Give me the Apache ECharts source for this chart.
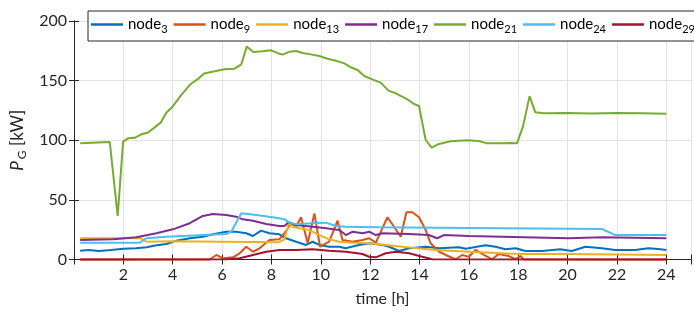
<!DOCTYPE html>
<html style="height: 100%">
<head>
    <meta charset="utf-8">
    <title>P_G per node</title>
</head>
<body style="height: 100%; margin: 0;">
<div id="container" style="width: 694px; height: 315px"></div>
<script src="https://cdn.jsdelivr.net/npm/echarts@6/dist/echarts.min.js"></script>
<script type="text/javascript">

    // time [h] / P_G [kW], one pair of arrays per node
    var t3 = [0.25, 0.6, 1.0, 1.5, 2.0, 2.5, 2.94, 3.34, 3.75, 4.15, 4.69, 5.22, 5.63, 6.17, 6.57, 6.98, 7.25, 7.58, 7.92, 8.32, 8.59, 9.0, 9.4, 9.67, 9.94, 10.34, 10.75, 11.0, 11.55, 11.96, 12.5, 12.77, 13.17, 13.58, 14.25, 14.79, 15.6, 15.87, 16.67, 17.08, 17.48, 17.89, 18.29, 18.96, 19.7, 20.17, 20.72, 21.39, 21.93, 22.73, 23.27, 23.68, 24];
    var v3 = [7.4, 8, 7.1, 8, 9, 9.4, 10.2, 11.9, 13, 15.8, 17.8, 19.1, 21.1, 23.3, 23.3, 22, 19.7, 24.2, 22, 21.1, 17.8, 14.9, 12.2, 14.9, 12.2, 10.7, 10.7, 9.4, 12.2, 13.6, 12.2, 10.7, 7.1, 9.4, 10.7, 9.4, 10.2, 9, 11.9, 10.7, 8.6, 9.4, 7.1, 7.1, 8.6, 7.1, 10.7, 9.4, 8, 8, 9.4, 8.8, 8];

    var t9 = [0.25, 5.5, 5.77, 6.03, 6.44, 6.71, 6.98, 7.25, 7.52, 7.92, 8.32, 8.53, 8.8, 9.0, 9.2, 9.47, 9.74, 9.97, 10.34, 10.68, 10.88, 11.29, 11.69, 11.96, 12.23, 12.7, 12.97, 13.24, 13.47, 13.71, 13.98, 14.25, 14.45, 14.79, 15.06, 15.46, 15.73, 16.0, 16.27, 16.61, 16.94, 17.21, 17.62, 17.89, 18.09, 18.22, 24];
    var v9 = [0, 0, 3.8, 1, 1.8, 5.2, 10.7, 6.5, 9.4, 16.4, 16.9, 22, 30.4, 27.5, 35.4, 13.6, 38.7, 10.7, 14.9, 32.5, 16.4, 14.9, 16.4, 17.8, 14.1, 35.4, 27.5, 19.1, 39.6, 39.6, 35.4, 24.7, 13.6, 6.5, 3.8, 0.2, 3.8, 2.3, 8, 3.8, 0.2, 4.6, 2.9, 0.2, 2.9, 0, 0];

    var t13 = [0.25, 2.7, 2.94, 4, 6, 8.3, 8.53, 8.7, 8.86, 9.13, 9.54, 9.94, 10.34, 10.75, 11.29, 11.96, 13.3, 14.65, 16, 17.35, 18.02, 20, 22, 24];
    var v13 = [17.8, 17.8, 14.9, 15.2, 14.9, 14.5, 16.9, 30.4, 27.5, 26.2, 24.7, 20.5, 16.9, 14.9, 14.1, 13.6, 10.7, 8, 6.5, 5.2, 4.6, 4.6, 4.2, 3.8];

    var t17 = [0.25, 1.59, 2.53, 3.34, 4.01, 4.69, 5.22, 5.63, 6.17, 6.57, 6.84, 7.25, 7.79, 8.32, 8.53, 8.7, 9.0, 9.67, 10.21, 10.75, 11.02, 11.29, 11.7, 11.96, 12.23, 12.5, 13.58, 14.38, 14.72, 14.99, 16, 17.35, 20.04, 21.39, 24];
    var v17 = [16.4, 16.9, 18.6, 22, 25.3, 30.4, 36.5, 38.2, 37.3, 35.9, 33.7, 32.5, 29.8, 28.1, 28.1, 31.4, 28.9, 27.5, 26.2, 24.7, 20.5, 23.3, 22, 23.3, 20.5, 22, 21.4, 20.5, 17.8, 20.5, 19.7, 19.1, 17.8, 18.6, 17.8];

    var t21 = [0.25, 1.45, 1.77, 1.99, 2.19, 2.46, 2.73, 2.98, 3.27, 3.52, 3.74, 3.97, 4.35, 4.73, 5.0, 5.27, 5.7, 6.1, 6.5, 6.78, 7.0, 7.27, 7.65, 7.99, 8.26, 8.46, 8.73, 9.0, 9.27, 9.6, 9.94, 10.27, 10.61, 10.95, 11.22, 11.49, 11.76, 12.09, 12.43, 12.74, 13.04, 13.51, 13.78, 13.98, 14.25, 14.49, 14.79, 15.26, 15.93, 16.4, 16.74, 17.28, 17.68, 17.95, 18.19, 18.46, 18.69, 19.03, 20, 21, 22, 23, 24];
    var v21 = [97.4, 98.5, 36.5, 98.8, 101.6, 102, 105, 106.3, 110.8, 115, 123, 127.6, 138, 147.2, 151, 156, 157.8, 159.5, 160, 163.7, 178.5, 174, 174.6, 175.4, 173, 171.8, 174.3, 174.8, 173.2, 172, 170.6, 168.4, 166.7, 164.5, 161.2, 158.9, 153.9, 151, 148.3, 141.6, 139.4, 134.3, 130.4, 128.7, 100.2, 93.8, 96.9, 99.1, 100, 99.4, 97.4, 97.4, 97.7, 97.4, 111.4, 137, 123.4, 122.6, 122.8, 122.5, 122.8, 122.6, 122.3];

    var t24 = [0.25, 2.67, 2.94, 3.75, 6.17, 6.37, 6.78, 7.38, 8.05, 8.53, 8.73, 9.0, 9.67, 10.21, 10.61, 11.02, 12.36, 16, 21.39, 21.93, 24];
    var v24 = [14.1, 14.1, 17.8, 19.1, 21.4, 23.3, 38.7, 37.3, 35.4, 33.7, 30.9, 29.5, 30.4, 30.9, 28.1, 27.5, 27, 26.5, 25.6, 20.5, 20.5];

    var t29 = [0.25, 6.17, 6.71, 7.25, 7.79, 8.32, 9.0, 9.67, 10.34, 11.02, 11.69, 11.96, 12.23, 12.63, 13.04, 13.58, 14.11, 14.52, 24];
    var v29 = [0, 0.2, 1, 3.8, 6.5, 8, 8, 8.6, 7.4, 6.5, 4.6, 2.3, 1.8, 5.2, 6.5, 5.2, 2.3, 0.2, 0];

    var nodeNames = ['node3', 'node9', 'node13', 'node17', 'node21', 'node24', 'node29'];
    var nodeTimes = [t3, t9, t13, t17, t21, t24, t29];
    var nodeValues = [v3, v9, v13, v17, v21, v24, v29];
    var colors = ['#0072BD', '#D95319', '#EDB120', '#7E2F8E', '#77AC30', '#4DBEEE', '#A2142F'];

    var font = 'Lato';
    var ink = '#262626';

    function pairs(ts, vs) {
        var out = [];
        for (var i = 0; i < ts.length; i++) {
            out.push([ts[i], vs[i]]);
        }
        return out;
    }

    var series = [];
    for (var i = 0; i < nodeNames.length; i++) {
        series.push({
            name: nodeNames[i],
            type: 'line',
            symbol: 'none',
            clip: false,
            data: pairs(nodeTimes[i], nodeValues[i]),
            lineStyle: {width: 2, color: colors[i]},
            itemStyle: {color: colors[i]}
        });
    }

    var myChart = echarts.init(document.getElementById('container'));
    var option = {
        animation: false,
        color: colors,
        grid: {left: 74, right: 1, top: 21, bottom: 55.5},
        graphic: [{
            type: 'rect',
            z: 3,
            shape: {x: 88, y: 11, width: 640, height: 30},
            style: {fill: '#fff', stroke: ink, lineWidth: 1}
        }],
        legend: {
            z: 10,
            left: 87,
            top: 11,
            width: 1000,
            padding: [6, 4, 4, 4],
            icon: 'rect',
            itemWidth: 32,
            itemHeight: 2.5,
            itemGap: 6,
            data: nodeNames,
            formatter: function (name) {
                return 'node{s|' + name.slice(4) + '}';
            },
            textStyle: {
                fontFamily: font,
                fontSize: 15,
                color: '#000',
                rich: {
                    s: {fontFamily: font, fontSize: 11, color: '#000', padding: [9, 0, 0, 0]}
                }
            }
        },
        xAxis: [{
            type: 'value',
            min: 0,
            max: 25,
            interval: 2,
            name: 'time [h]',
            nameLocation: 'middle',
            nameGap: 31,
            nameTextStyle: {fontFamily: font, fontSize: 16, color: ink},
            axisLine: {lineStyle: {color: ink}},
            axisTick: {inside: true, length: 5, lineStyle: {color: ink}},
            axisLabel: {
                fontFamily: font, fontSize: 16, color: ink, margin: 7,
                formatter: function (v) { return (v === 0 || v === 25) ? '' : v; }
            },
            splitLine: {show: true, lineStyle: {color: '#e3e3e3'}}
        }, {
            type: 'value',
            position: 'top',
            min: 0,
            max: 25,
            interval: 2,
            axisLine: {lineStyle: {color: ink}},
            axisTick: {inside: true, length: 5, lineStyle: {color: ink}},
            axisLabel: {show: false},
            splitLine: {show: false}
        }],
        yAxis: [{
            type: 'value',
            min: 0,
            max: 200,
            interval: 50,
            name: '{i|P}{s|G} [kW]',
            nameLocation: 'middle',
            nameRotate: 90,
            nameGap: 42,
            nameTextStyle: {
                fontFamily: font, fontSize: 17, color: ink,
                rich: {
                    i: {fontFamily: font, fontSize: 17, fontStyle: 'italic', color: ink},
                    s: {fontFamily: font, fontSize: 12, color: ink, padding: [10, 0, 0, 2]}
                }
            },
            axisLine: {show: true, lineStyle: {color: ink}},
            axisTick: {show: true, inside: true, length: 5, lineStyle: {color: ink}},
            axisLabel: {fontFamily: font, fontSize: 16, color: ink, margin: 7},
            splitLine: {show: true, lineStyle: {color: '#e3e3e3'}}
        }, {
            type: 'value',
            position: 'right',
            min: 0,
            max: 200,
            interval: 50,
            axisLine: {show: true, lineStyle: {color: ink}},
            axisTick: {show: true, inside: true, length: 5, lineStyle: {color: ink}},
            axisLabel: {show: false},
            splitLine: {show: false}
        }],
        series: series
    };
    myChart.setOption(option);

</script>
</body>
</html>
